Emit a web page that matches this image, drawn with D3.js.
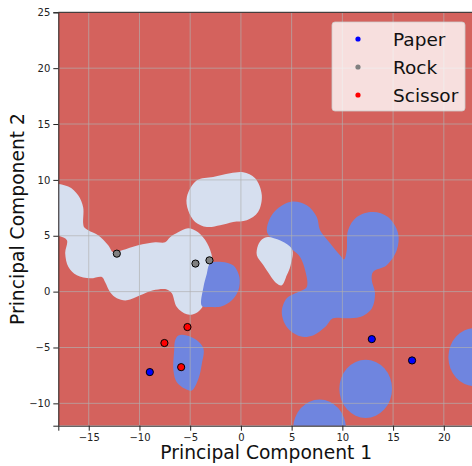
<!DOCTYPE html>
<html>
<head>
<meta charset="utf-8">
<script src="https://cdn.jsdelivr.net/npm/d3@7"></script>
<style>
  body { margin: 0; background: #fff; }
  svg { display: block; font-family: "DejaVu Sans", sans-serif; }
</style>
</head>
<body>
<div id="grafico"></div>
<script>
// classes and scatter points (PC1, PC2)
var classes = ["Paper", "Rock", "Scissor"];
var paperPC1 = [-8.98, 12.9, 16.87];
var paperPC2 = [-7.2, -4.25, -6.16];
var rockPC1 = [-12.23, -4.48, -3.1];
var rockPC2 = [3.4, 2.51, 2.8];
var scissorPC1 = [-7.54, -5.27, -5.89];
var scissorPC2 = [-4.6, -3.17, -6.76];

var xTicks = [-15, -10, -5, 0, 5, 10, 15, 20];
var yTicks = [-10, -5, 0, 5, 10, 15, 20, 25];

// decision regions, outlines in data units (PC1, PC2)
var rockRegionLeft = [[-18.6, 9.5], [-17.02, 9.4], [-16.04, 8.62], [-15.55, 7.55], [-15.55, 6.12], [-15.45, 5.76],
    [-15.05, 5.49], [-14.07, 5.04], [-13.08, 4.15], [-12.59, 3.52], [-11.72, 3.7], [-10.13, 4.15], [-8.45, 4.42],
    [-7.47, 4.42], [-6.98, 4.87], [-6.19, 5.31], [-5.2, 5.67], [-4.22, 5.31], [-3.33, 4.33], [-2.84, 3.07],
    [-2.9, 1.5], [-3.5, -0.6], [-3.82, -1.41], [-4.5, -1.95], [-5.33, -2.03], [-6.32, -1.38], [-6.81, -0.15],
    [-7.3, 0.2], [-8.65, 0.12], [-9.93, -0.33], [-11.24, -0.78], [-12.23, -0.6], [-12.89, -0.06], [-13.38, 0.83],
    [-13.7, 1.31], [-14.86, 1.19], [-16.17, 1.46], [-17.0, 2.2], [-17.32, 3.43], [-17.15, 4.6], [-17.81, 4.96],
    [-18.6, 5.0]];
var rockRegionTop = [[-5.33, 8.48], [-4.34, 9.97], [-2.74, 10.27], [-1.06, 10.6], [0.22, 10.69], [1.4, 10.15],
    [2.06, 8.63], [1.69, 7.13], [0.58, 6.39], [-0.77, 6.24], [-2.05, 5.94], [-3.36, 5.79], [-4.51, 6.24], [-5.2, 7.28]];
var rockRegionMid = [[2.71, 4.89], [5.01, 3.85], [4.9, 2.36], [4.52, 1.46], [4.03, 0.56], [3.54, 0.72],
    [2.22, 2.36], [1.57, 3.25], [1.69, 4.15], [2.09, 4.69]];
var paperRegionBig = [[2.55, 5.49], [3.17, 7.02], [4.85, 8.03], [6.49, 7.73], [7.48, 6.68], [7.8, 5.49],
    [8.79, 4.33], [9.77, 3.25], [10.17, 2.89], [10.43, 3.7], [10.56, 5.49], [11.42, 6.68], [13.02, 7.13],
    [14.5, 6.68], [15.49, 5.22], [15.36, 3.7], [14.37, 2.36], [13.02, 1.76], [12.9, 1.01], [13.22, -0.15],
    [12.9, -1.5], [11.74, -2.28], [10.43, -2.39], [9.08, -2.39], [8.3, -3.17], [7.11, -3.92], [5.83, -4.0],
    [4.52, -3.17], [4.03, -1.83], [4.52, -0.6], [5.64, -0.04], [6.49, 0.41], [6.33, 1.91], [5.83, 3.1],
    [5.14, 3.7], [2.88, 4.89]];
var paperRegionRock = [[-3.03, 2.51], [-1.88, 2.65], [-0.77, 2.35], [-0.15, 1.31], [-0.25, 0.12], [-0.9, -0.78],
    [-1.88, -1.32], [-3.03, -1.38], [-3.85, -1.29], [-3.69, 0.41], [-3.36, 1.61]];
var paperRegionLow = [[-6.16, -3.92], [-5.33, -3.92], [-4.34, -4.36], [-3.69, -5.11], [-3.85, -6.45],
    [-4.19, -7.8], [-4.84, -8.84], [-5.5, -8.69], [-6.32, -8.1], [-6.65, -7.05], [-6.58, -5.26], [-6.48, -4.36]];
// round blobs: centre PC1, centre PC2, radius
var paperBlobs = [[12.3, -8.7, 2.6], [7.75, -12.25, 2.6], [23.05, -5.86, 2.6]];

var colRegion = { Paper: "#6f85df", Rock: "#d6dfef", Scissor: "#d4625d" };
var colPoint = { Paper: "#0000ff", Rock: "#808080", Scissor: "#ff0000" };

var W = 472, H = 466;
var x = d3.scaleLinear().domain([-18, 23]).range([58.3, 474.25]);
var y = d3.scaleLinear().domain([-12, 25]).range([425.7, 12.3]);

var svg = d3.select("#grafico").append("svg").attr("width", W).attr("height", H);

svg.append("clipPath").attr("id", "plotclip").append("rect")
    .attr("x", x(-18)).attr("y", y(25))
    .attr("width", x(23) - x(-18)).attr("height", y(-12) - y(25));

var plot = svg.append("g").attr("clip-path", "url(#plotclip)");

// background = Scissor region
plot.append("rect")
    .attr("x", x(-18)).attr("y", y(25))
    .attr("width", x(23) - x(-18)).attr("height", y(-12) - y(25))
    .attr("fill", colRegion.Scissor);

var blob = d3.line()
    .x(function(d) { return x(d[0]); })
    .y(function(d) { return y(d[1]); })
    .curve(d3.curveCatmullRomClosed.alpha(0.5));

[rockRegionLeft, rockRegionTop].forEach(function(r) {
    plot.append("path").attr("d", blob(r)).attr("fill", colRegion.Rock);
});
[paperRegionBig, paperRegionRock, paperRegionLow].forEach(function(r) {
    plot.append("path").attr("d", blob(r)).attr("fill", colRegion.Paper);
});
plot.selectAll("ellipse.blob").data(paperBlobs).enter().append("ellipse")
    .attr("class", "blob")
    .attr("cx", function(d) { return x(d[0]); })
    .attr("cy", function(d) { return y(d[1]); })
    .attr("rx", function(d) { return x(d[2]) - x(0); })
    .attr("ry", function(d) { return y(0) - y(d[2]); })
    .attr("fill", colRegion.Paper);
plot.append("path").attr("d", blob(rockRegionMid)).attr("fill", colRegion.Rock);

// grid
plot.selectAll("line.gx").data(xTicks).enter().append("line")
    .attr("x1", function(d) { return x(d); }).attr("x2", function(d) { return x(d); })
    .attr("y1", y(25)).attr("y2", y(-12))
    .attr("stroke", "#b0b0b0").attr("stroke-opacity", 0.85).attr("stroke-width", 0.8);
plot.selectAll("line.gy").data(yTicks).enter().append("line")
    .attr("y1", function(d) { return y(d); }).attr("y2", function(d) { return y(d); })
    .attr("x1", x(-18)).attr("x2", x(23))
    .attr("stroke", "#b0b0b0").attr("stroke-opacity", 0.85).attr("stroke-width", 0.8);

// axes
var xAxis = svg.append("g").attr("transform", "translate(0," + y(-12) + ")")
    .call(d3.axisBottom(x).tickValues(xTicks).tickSize(5).tickPadding(3));
var yAxis = svg.append("g").attr("transform", "translate(" + x(-18) + ",0)")
    .call(d3.axisLeft(y).tickValues(yTicks).tickSize(5).tickPadding(3));
[xAxis, yAxis].forEach(function(a) {
    a.select(".domain").attr("stroke", "#222").attr("stroke-width", 1);
    a.selectAll(".tick line").attr("stroke", "#222");
    a.selectAll(".tick text").attr("font-size", 10).attr("fill", "#222")
        .attr("font-family", "DejaVu Sans, sans-serif");
});
svg.append("line").attr("x1", x(-18)).attr("x2", x(23)).attr("y1", y(25)).attr("y2", y(25))
    .attr("stroke", "#222").attr("stroke-width", 1);
svg.append("line").attr("x1", x(23)).attr("x2", x(23)).attr("y1", y(25)).attr("y2", y(-12))
    .attr("stroke", "#222").attr("stroke-width", 1);

svg.append("text").attr("x", (x(-18) + x(23)) / 2).attr("y", 459)
    .attr("text-anchor", "middle").attr("font-size", 18.7).attr("fill", "#111")
    .text("Principal Component 1");
svg.append("text").attr("transform", "translate(24," + (y(-12) + y(25)) / 2 + ") rotate(-90)")
    .attr("text-anchor", "middle").attr("font-size", 18.7).attr("fill", "#111")
    .text("Principal Component 2");

// points
var points = [];
paperPC1.forEach(function(v, i) { points.push({ c: "Paper", a: v, b: paperPC2[i] }); });
rockPC1.forEach(function(v, i) { points.push({ c: "Rock", a: v, b: rockPC2[i] }); });
scissorPC1.forEach(function(v, i) { points.push({ c: "Scissor", a: v, b: scissorPC2[i] }); });

plot.selectAll("circle.pt").data(points).enter().append("circle")
    .attr("class", "pt")
    .attr("cx", function(d) { return x(d.a); })
    .attr("cy", function(d) { return y(d.b); })
    .attr("r", 3.6)
    .attr("fill", function(d) { return colPoint[d.c]; })
    .attr("stroke", "#000").attr("stroke-width", 1);

// legend
var leg = svg.append("g");
leg.append("rect").attr("x", 332).attr("y", 22).attr("width", 133).attr("height", 89)
    .attr("rx", 3).attr("fill", "#fff").attr("fill-opacity", 0.8)
    .attr("stroke", "#ccc").attr("stroke-opacity", 0.8);
classes.forEach(function(c, i) {
    leg.append("circle").attr("cx", 358).attr("cy", 39 + i * 28).attr("r", 2.6).attr("fill", colPoint[c]);
    leg.append("text").attr("x", 393).attr("y", 45.5 + i * 28).attr("font-size", 18.5).attr("fill", "#111").text(c);
});
</script>
</body>
</html>
